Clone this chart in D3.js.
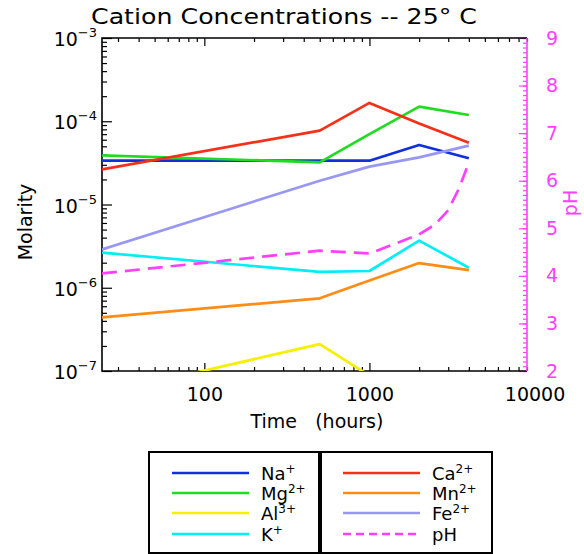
<!DOCTYPE html>
<html>
<head>
<meta charset="utf-8">
<script src="https://cdn.jsdelivr.net/npm/d3@7/dist/d3.min.js"></script>
<style>
  html, body { margin: 0; padding: 0; background: #fff; }
  svg { display: block; font-family: "DejaVu Sans", sans-serif; }
</style>
</head>
<body>
<svg id="chart" width="584" height="554"></svg>
<script>
// ---- data ----
const hours   = [24, 500, 1000, 2000, 4000];
const na      = [3.36e-5, 3.36e-5, 3.36e-5, 5.19e-5, 3.59e-5];
const mg      = [3.90e-5, 3.21e-5, 7.0e-5, 1.50e-4, 1.19e-4];
const al      = [5.3e-8, 2.1e-7, 8.8e-8, 5.0e-8, 5.0e-8];
const kk      = [2.64e-6, 1.55e-6, 1.59e-6, 3.68e-6, 1.74e-6];
const ca      = [2.64e-5, 7.71e-5, 1.66e-4, 9.4e-5, 5.53e-5];
const mn      = [4.41e-7, 7.46e-7, 1.22e-6, 1.98e-6, 1.63e-6];
const fe      = [2.89e-6, 1.93e-5, 2.85e-5, 3.68e-5, 5.09e-5];
const phHours = [24, 500, 1000, 2000, 2500, 3000, 3500, 4000];
const ph      = [4.05, 4.53, 4.47, 4.87, 5.08, 5.38, 5.85, 6.38];

const xTickLabels = [100, 1000, 10000];
const yExponents  = [-3, -4, -5, -6, -7];
const phTicks     = [2, 3, 4, 5, 6, 7, 8, 9];

const series = [
  {name: "Na", sup: "+",  values: na, color: "#1030dc"},
  {name: "Mg", sup: "2+", values: mg, color: "#20dc20"},
  {name: "Al", sup: "3+", values: al, color: "#f4f000"},
  {name: "K",  sup: "+",  values: kk, color: "#00eef4"},
  {name: "Ca", sup: "2+", values: ca, color: "#f43018"},
  {name: "Mn", sup: "2+", values: mn, color: "#ff8c14"},
  {name: "Fe", sup: "2+", values: fe, color: "#9898f4"}
];
const phColor = "#ff40ff";

// ---- layout ----
const L = 102, R = 527, T = 38, B = 371;
const svg = d3.select("#chart");

const x = d3.scaleLog().domain([24, 9000]).range([L, R]);
const y = d3.scaleLog().domain([1e-7, 1e-3]).range([B, T]);
const yph = d3.scaleLinear().domain([2, 9]).range([B, T]);

svg.append("defs").append("clipPath").attr("id", "clip")
  .append("rect").attr("x", L).attr("y", T).attr("width", R - L).attr("height", B - T);

// ---- ticks ----
const xMinor = [];
[10, 100, 1000].forEach(d => { for (let i = 2; i <= 9; i++) { const v = d * i; if (v >= 24 && v <= 9000) xMinor.push(v); } });
const xMajor = [100, 1000];
const yMinor = [];
[1e-7, 1e-6, 1e-5, 1e-4].forEach(d => { for (let i = 2; i <= 9; i++) yMinor.push(d * i); });
const yMajor = yExponents.map(e => Math.pow(10, e));
const phMinor = d3.range(20, 91).map(v => v / 10);

function styleAxis(g, color) {
  g.select(".domain").remove();
  g.selectAll("line").attr("stroke", color).attr("stroke-width", 1.2);
}

// bottom axis
svg.append("g").attr("transform", `translate(0,${B})`)
  .call(d3.axisBottom(x).tickValues(xMinor).tickSize(-4).tickFormat(""))
  .call(g => styleAxis(g, "#000"));
svg.append("g").attr("transform", `translate(0,${B})`)
  .call(d3.axisBottom(x).tickValues(xMajor).tickSize(-8).tickFormat(""))
  .call(g => styleAxis(g, "#000"));
svg.append("g").attr("transform", `translate(0,${B})`)
  .call(d3.axisBottom(x).tickValues(xTickLabels).tickSize(0).tickPadding(17).tickFormat(d3.format("d")))
  .call(g => { g.select(".domain").remove(); g.selectAll("line").remove();
    g.selectAll("text").attr("font-size", 19).attr("fill", "#000").attr("font-family", "DejaVu Sans"); });

// top axis
svg.append("g").attr("transform", `translate(0,${T})`)
  .call(d3.axisTop(x).tickValues(xMinor).tickSize(-4).tickFormat(""))
  .call(g => styleAxis(g, "#000"));
svg.append("g").attr("transform", `translate(0,${T})`)
  .call(d3.axisTop(x).tickValues(xMajor).tickSize(-8).tickFormat(""))
  .call(g => styleAxis(g, "#000"));

// left axis
svg.append("g").attr("transform", `translate(${L},0)`)
  .call(d3.axisLeft(y).tickValues(yMinor).tickSize(-5).tickFormat(""))
  .call(g => styleAxis(g, "#000"));
svg.append("g").attr("transform", `translate(${L},0)`)
  .call(d3.axisLeft(y).tickValues(yMajor).tickSize(-10).tickFormat(""))
  .call(g => styleAxis(g, "#000"));

const yl = svg.append("g");
yExponents.forEach(e => {
  const yy = y(Math.pow(10, e));
  const t = yl.append("text").attr("x", L - 5).attr("y", yy + 8)
    .attr("text-anchor", "end").attr("fill", "#000");
  t.append("tspan").attr("font-size", 19).text("10");
  t.append("tspan").attr("font-size", 13).attr("dy", -9).text("\u2212" + Math.abs(e));
});

// right pH axis
svg.append("g").attr("transform", `translate(${R},0)`)
  .call(d3.axisRight(yph).tickValues(phMinor).tickSize(-4).tickFormat(""))
  .call(g => styleAxis(g, phColor));
svg.append("g").attr("transform", `translate(${R},0)`)
  .call(d3.axisRight(yph).tickValues(phTicks).tickSize(-8).tickPadding(19).tickFormat(d3.format("d")))
  .call(g => { styleAxis(g, phColor);
    g.selectAll("text").attr("font-size", 19).attr("fill", phColor).attr("font-family", "DejaVu Sans"); });

// frame
svg.append("path")
  .attr("d", `M${R},${T}H${L}V${B}H${R}`)
  .attr("fill", "none").attr("stroke", "#000").attr("stroke-width", 1.6);
svg.append("line").attr("x1", R).attr("x2", R).attr("y1", T).attr("y2", B)
  .attr("stroke", phColor).attr("stroke-width", 1.6);

// ---- lines ----
const plot = svg.append("g").attr("clip-path", "url(#clip)");
const line = d3.line().x(d => x(d[0])).y(d => y(d[1]));
series.forEach(s => {
  plot.append("path")
    .datum(hours.map((h, i) => [h, s.values[i]]))
    .attr("d", line)
    .attr("fill", "none").attr("stroke", s.color).attr("stroke-width", 2.7)
    .attr("stroke-linejoin", "round");
});
const phLine = d3.line().x(d => x(d[0])).y(d => yph(d[1]));
plot.append("path")
  .datum(phHours.map((h, i) => [h, ph[i]]))
  .attr("d", phLine)
  .attr("fill", "none").attr("stroke", phColor).attr("stroke-width", 2.7)
  .attr("stroke-dasharray", "15,8");

// ---- titles ----
svg.append("text").attr("x", 91).attr("y", 24)
  .attr("font-size", 22).attr("textLength", 386).attr("lengthAdjust", "spacingAndGlyphs")
  .attr("fill", "#000").text("Cation Concentrations -- 25\u00b0 C");

svg.append("text").attr("x", 317).attr("y", 428).attr("text-anchor", "middle")
  .attr("font-size", 19).attr("fill", "#000")
  .text("Time\u00a0\u00a0\u00a0(hours)");

svg.append("text").attr("transform", "translate(32,222) rotate(-90)")
  .attr("text-anchor", "middle").attr("font-size", 19).attr("fill", "#000").text("Molarity");

svg.append("text").attr("transform", "translate(577,203) rotate(-90)")
  .attr("text-anchor", "middle").attr("font-size", 19).attr("fill", phColor).text("pH");

// ---- legend ----
const leg = svg.append("g");
leg.append("rect").attr("x", 149).attr("y", 452).attr("width", 343).attr("height", 101)
  .attr("fill", "#fff").attr("stroke", "#000").attr("stroke-width", 2);
leg.append("line").attr("x1", 320).attr("x2", 320).attr("y1", 452).attr("y2", 553)
  .attr("stroke", "#000").attr("stroke-width", 4);

const legItems = series.map(s => ({name: s.name, sup: s.sup, color: s.color, dash: null}))
  .concat([{name: "pH", sup: "", color: phColor, dash: "8,5"}]);
const rowY = [473, 493, 513, 534];
legItems.forEach((it, i) => {
  const col = Math.floor(i / 4), row = i % 4;
  const x0 = col === 0 ? 172 : 343;
  const ly = rowY[row];
  leg.append("line").attr("x1", x0).attr("x2", x0 + 77).attr("y1", ly).attr("y2", ly)
    .attr("stroke", it.color).attr("stroke-width", 2.4)
    .attr("stroke-dasharray", it.dash);
  const t = leg.append("text").attr("x", x0 + 89).attr("y", ly + 7).attr("fill", "#000");
  t.append("tspan").attr("font-size", 18).text(it.name);
  if (it.sup) t.append("tspan").attr("font-size", 12).attr("dy", -7).text(it.sup);
});
</script>
</body>
</html>
